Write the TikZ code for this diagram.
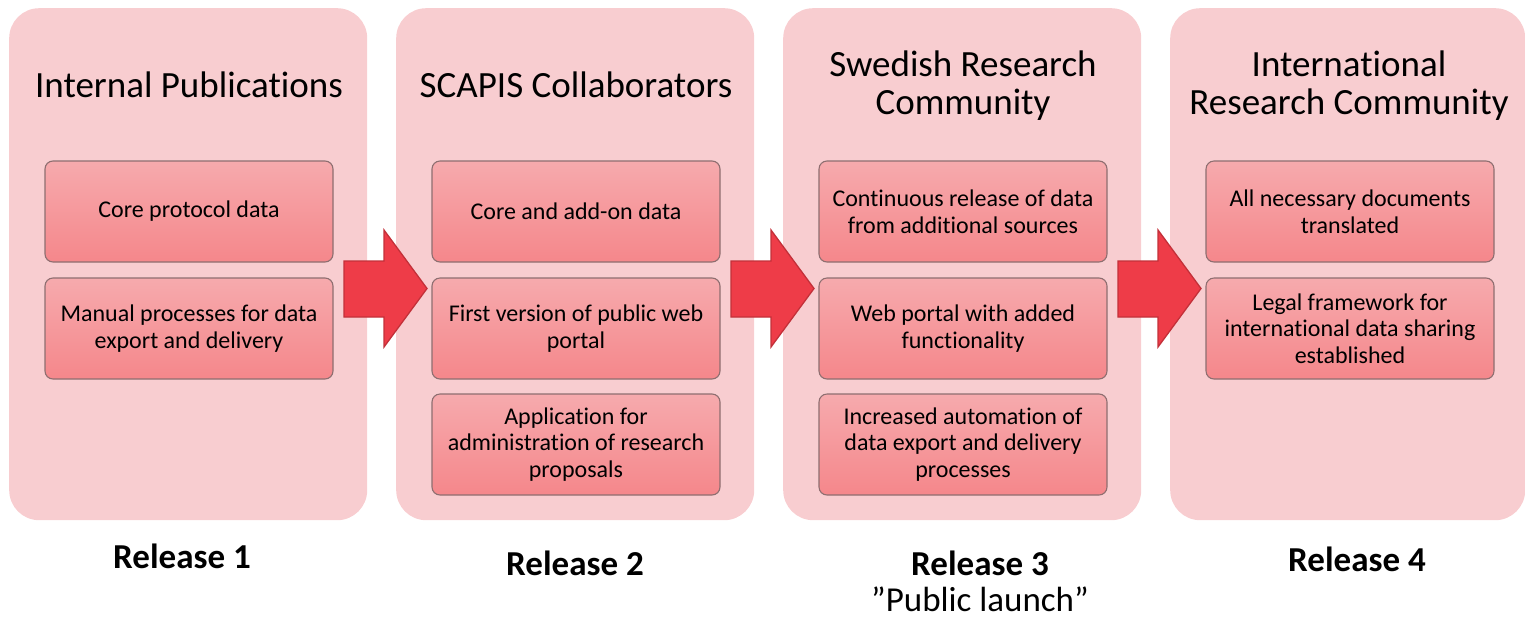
\documentclass[tikz,border=0pt]{standalone}
\usepackage{fontspec}
\setmainfont{Carlito}[Ligatures={NoCommon}]
\definecolor{panelfill}{RGB}{248,205,208}
\definecolor{itemtop}{RGB}{246,170,173}
\definecolor{itembot}{RGB}{245,135,139}
\definecolor{itemline}{RGB}{142,110,112}
\definecolor{arrowfill}{RGB}{238,60,72}
\definecolor{arrowline}{RGB}{195,48,57}
\begin{document}
\begin{tikzpicture}[x=1pt,y=-1pt,
  panel/.style={fill=panelfill,draw=none,rounded corners=30pt,minimum width=358pt,minimum height=512pt,anchor=north west,inner sep=0pt},
  title/.style={align=center,inner sep=0pt,font=\fontsize{37}{38}\selectfont},
  item/.style={draw=itemline,line width=1.1pt,rounded corners=8pt,top color=itemtop,bottom color=itembot,
    minimum width=288pt,minimum height=101pt,align=center,inner sep=0pt,
    font=\fontsize{24}{26.5}\selectfont},
  blockarrow/.style={fill=arrowfill,draw=arrowline,line width=1.3pt,line join=miter},
  release/.style={anchor=base,inner sep=0pt,font=\fontsize{35}{40}\selectfont\bfseries},
  sub/.style={anchor=base,inner sep=0pt,font=\fontsize{35}{40}\selectfont}]
\useasboundingbox (0,0) rectangle (1525,619);
% panels
\node[panel] (p1) at (9,8) {};
\node[panel] (p2) at (396,8) {};
\node[panel] (p3) at (783,8) {};
\node[panel,minimum width=355pt] (p4) at (1170,8) {};
% arrows
\foreach \k in {0,1,2}{
  \draw[blockarrow] ({344+387*\k},261) -- ({384+387*\k},261) -- ({384+387*\k},230)
    -- ({427+387*\k},288.5) -- ({384+387*\k},347) -- ({384+387*\k},317)
    -- ({344+387*\k},317) -- cycle;
}
% titles
\node[title,anchor=base] (t1) at (189,97) {Internal Publications};
\node[title,anchor=base] (t2) at (576,97) {SCAPIS Collaborators};
\node[title] (t3) at (963,86) {Swedish Research\\Community};
\node[title] (t4) at (1349,86) {International\\Research Community};
% items
\node[item] (b11) at (189,211.5) {Core protocol data};
\node[item] (b12) at (189,328.5) {Manual processes for data\\export and delivery};
\node[item] (b21) at (576,211.5) {Core and add-on data};
\node[item] (b22) at (576,328.5) {First version of public web\\portal};
\node[item] (b23) at (576,444.5) {Application for\\administration of research\\proposals};
\node[item] (b31) at (963,211.5) {Continuous release of data\\from additional sources};
\node[item] (b32) at (963,328.5) {Web portal with added\\functionality};
\node[item] (b33) at (963,444.5) {Increased automation of\\data export and delivery\\processes};
\node[item] (b41) at (1350,211.5) {All necessary documents\\translated};
\node[item] (b42) at (1350,328.5) {Legal framework for\\international data sharing\\established};
% release labels
\node[release] (r1) at (182,568) {Release 1};
\node[release] (r2) at (575,575) {Release 2};
\node[release] (r3) at (980,575) {Release 3};
\node[sub] (pl) at (980,611) {”Public launch”};
\node[release] (r4) at (1357,571) {Release 4};
\end{tikzpicture}
\end{document}
